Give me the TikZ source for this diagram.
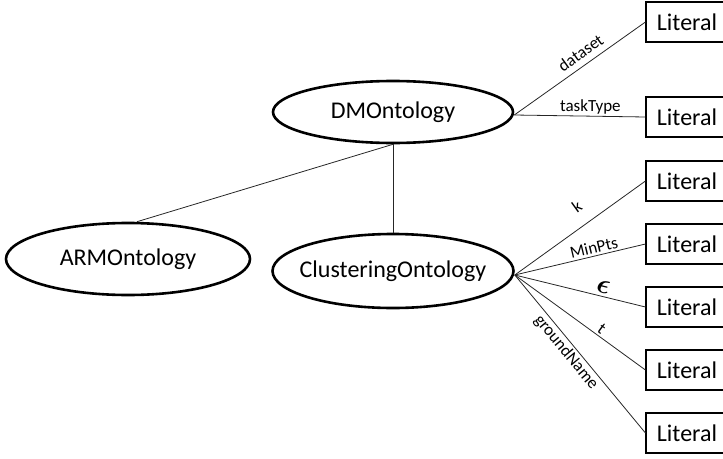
\documentclass[tikz,border=0pt]{standalone}
\usepackage{amsmath}
\usepackage{fontspec}
\setmainfont{Carlito}
\usetikzlibrary{shapes.geometric}
\begin{document}
\begin{tikzpicture}[x=1pt,y=-1pt,
 onto/.style={ellipse, draw, line width=2.6pt, inner sep=0pt, font=\fontsize{24}{28}\selectfont},
 lit/.style={rectangle, draw, line width=1.1pt, minimum width=82pt, minimum height=40pt, inner sep=0pt, font=\fontsize{24}{28}\selectfont},
 rel/.style={line width=0.8pt, draw=black!85},
 lbl/.style={font=\fontsize{17}{19}\selectfont, inner sep=2pt}]
\useasboundingbox (0,0) rectangle (723,458);
\node[onto, minimum width=240pt, minimum height=62pt] (dm) at (393,112) {\makebox[0pt]{DMOntology}};
\node[onto, minimum width=244pt, minimum height=72pt] (arm) at (128,259) {\makebox[0pt]{ARMOntology}};
\node[onto, minimum width=241pt, minimum height=74pt] (cl) at (393,271) {\makebox[0pt]{ClusteringOntology}};
\node[lit] (l1) at (687,22) {Literal};
\node[lit] (l2) at (687,117) {Literal};
\node[lit] (l3) at (687,181) {Literal};
\node[lit] (l4) at (687,244) {Literal};
\node[lit] (l5) at (687,307) {Literal};
\node[lit] (l6) at (687,370) {Literal};
\node[lit] (l7) at (687,433) {Literal};
\coordinate (dmr) at ([yshift=-3pt]dm.east);
\coordinate (clr) at ([yshift=-4pt]cl.east);
\draw[rel] (dm.south) -- (cl.north);
\draw[rel] (dm.south) -- ([xshift=9pt]arm.north);
\draw[rel] (dmr) -- node[lbl, sloped, above=4pt, pos=0.56] {dataset} (l1.west);
\draw[rel] (dmr) -- node[lbl, above, pos=0.58] {taskType} (l2.west);
\draw[rel] (clr) -- node[lbl, sloped, above=11pt, pos=0.56] {k} (l3.west);
\draw[rel] (clr) -- node[lbl, sloped, above, pos=0.62] {MinPts} (l4.west);
\draw[rel] (clr) -- node[lbl, sloped, above=1pt, pos=0.66] {\scalebox{1.6}{$\boldsymbol{\epsilon}$}} (l5.west);
\draw[rel] (clr) -- node[lbl, sloped, above, pos=0.63] {t} (l6.west);
\draw[rel] (clr) -- node[lbl, sloped, below, pos=0.45] {groundName} (l7.west);
\end{tikzpicture}
\end{document}
